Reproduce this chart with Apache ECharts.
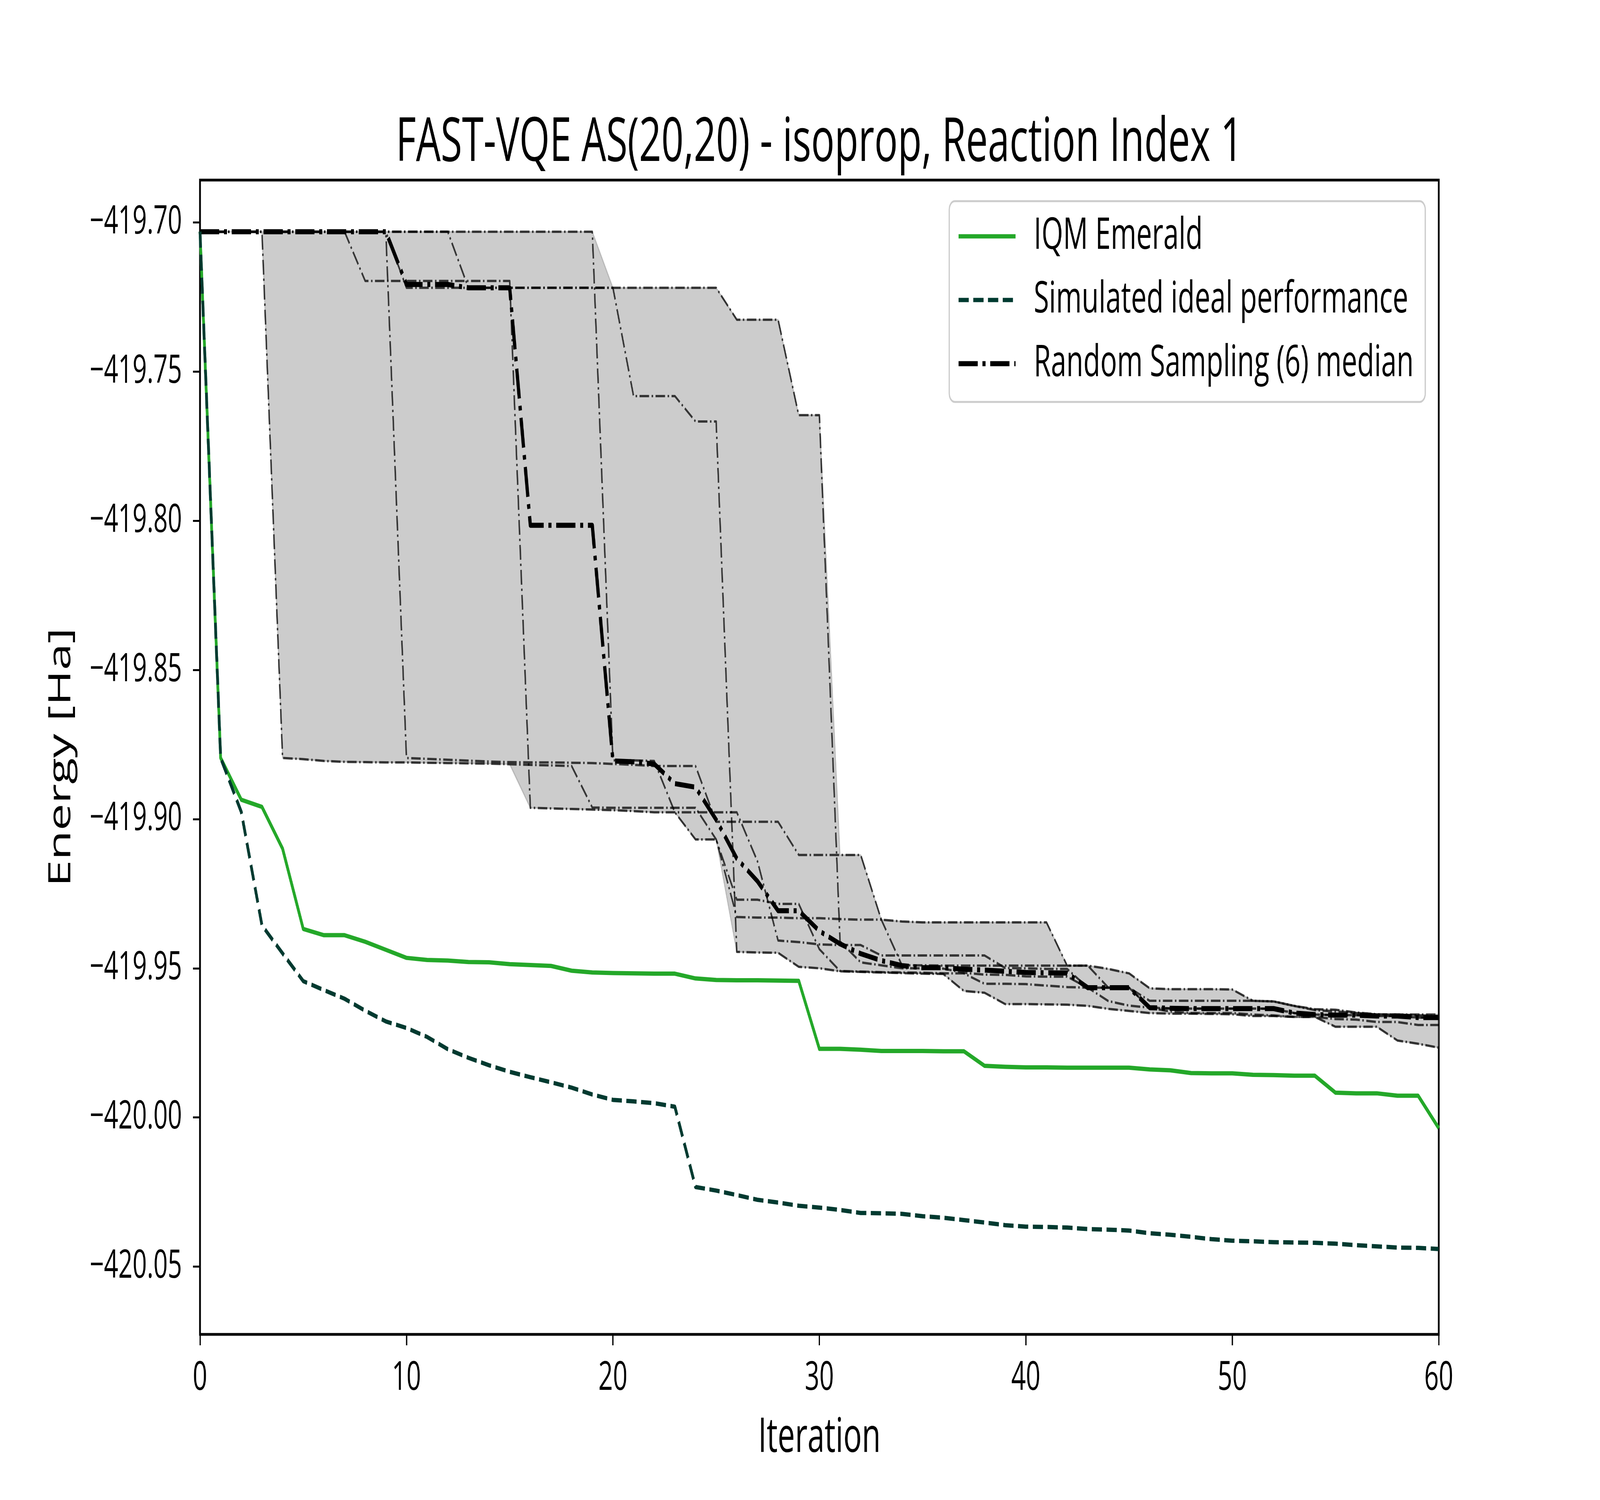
<!DOCTYPE html>
<html><head><meta charset="utf-8">
<script src="https://cdn.jsdelivr.net/npm/echarts@6/dist/echarts.min.js"></script>
<style>html,body{margin:0;padding:0;background:#fff;overflow:hidden}
#wrap{position:absolute;left:0;top:0;width:6400px;height:3840px;transform-origin:0 0}
#c{width:6400px;height:3840px}</style>
</head><body><div id="wrap"><div id="c"></div></div>
<script>
// ---------------- data ----------------
const iterations = [0,1,2,3,4,5,6,7,8,9,10,11,12,13,14,15,16,17,18,19,20,21,22,23,24,25,26,27,28,29,30,31,32,33,34,35,36,37,38,39,40,41,42,43,44,45,46,47,48,49,50,51,52,53,54,55,56,57,58,59,60];

const iqmEmerald = [-419.7031,-419.8795,-419.8935,-419.8959,-419.9099,-419.9368,-419.9389,-419.9389,-419.9411,-419.9438,
 -419.9465,-419.9472,-419.9474,-419.9479,-419.9480,-419.9486,-419.9489,-419.9492,-419.9508,-419.9514,
 -419.9516,-419.9517,-419.9518,-419.9518,-419.9534,-419.9539,-419.9540,-419.9540,-419.9541,-419.9542,
 -419.9770,-419.9770,-419.9773,-419.9777,-419.9777,-419.9777,-419.9778,-419.9778,-419.9827,-419.9830,
 -419.9832,-419.9832,-419.9833,-419.9833,-419.9833,-419.9833,-419.9839,-419.9842,-419.9851,-419.9852,
 -419.9852,-419.9857,-419.9858,-419.9860,-419.9860,-419.9917,-419.9919,-419.9919,-419.9927,-419.9927,-420.0036];

const simulatedIdeal = [-419.7031,-419.8795,-419.8976,-419.9356,-419.9450,-419.9543,-419.9573,-419.9602,-419.9642,-419.9678,
 -419.9700,-419.9730,-419.9771,-419.9800,-419.9825,-419.9847,-419.9865,-419.9882,-419.9900,-419.9923,
 -419.9941,-419.9946,-419.9952,-419.9964,-420.0233,-420.0245,-420.0260,-420.0276,-420.0285,-420.0296,
 -420.0302,-420.0310,-420.0320,-420.0321,-420.0323,-420.0331,-420.0336,-420.0344,-420.0352,-420.0361,
 -420.0366,-420.0367,-420.0369,-420.0374,-420.0376,-420.0379,-420.0388,-420.0393,-420.0400,-420.0408,
 -420.0413,-420.0415,-420.0418,-420.0419,-420.0420,-420.0423,-420.0428,-420.0432,-420.0436,-420.0437,-420.0441];

const randomMedian = [-419.7031,-419.7031,-419.7031,-419.7031,-419.7031,-419.7031,-419.7031,-419.7031,-419.7031,-419.7031,
 -419.7208,-419.7208,-419.7208,-419.7219,-419.7219,-419.7219,-419.8015,-419.8015,-419.8015,-419.8015,
 -419.8805,-419.8808,-419.8815,-419.8881,-419.8893,-419.9002,-419.9132,-419.9208,-419.9307,-419.9307,
 -419.9375,-419.9418,-419.9451,-419.9474,-419.9491,-419.9498,-419.9498,-419.9503,-419.9506,-419.9510,
 -419.9514,-419.9515,-419.9516,-419.9565,-419.9565,-419.9565,-419.9632,-419.9634,-419.9635,-419.9635,
 -419.9635,-419.9635,-419.9635,-419.9650,-419.9655,-419.9657,-419.9657,-419.9660,-419.9660,-419.9665,-419.9665];

const randomRun1 = [-419.7031,-419.7031,-419.7031,-419.7031,-419.8795,-419.8799,-419.8805,-419.8808,-419.8809,-419.8810,
 -419.8810,-419.8811,-419.8812,-419.8813,-419.8814,-419.8816,-419.8818,-419.8820,-419.8822,-419.8961,
 -419.8962,-419.8962,-419.8962,-419.8962,-419.8962,-419.9068,-419.9270,-419.9270,-419.9284,-419.9284,
 -419.9436,-419.9509,-419.9511,-419.9513,-419.9514,-419.9515,-419.9517,-419.9517,-419.9552,-419.9552,
 -419.9553,-419.9558,-419.9563,-419.9565,-419.9565,-419.9565,-419.9632,-419.9645,-419.9650,-419.9650,
 -419.9650,-419.9655,-419.9658,-419.9663,-419.9663,-419.9670,-419.9672,-419.9680,-419.9680,-419.9690,-419.9690];

const randomRun2 = [-419.7031,-419.7031,-419.7031,-419.7031,-419.7031,-419.7031,-419.7031,-419.7031,-419.7196,-419.7196,
 -419.7196,-419.7196,-419.7196,-419.7196,-419.7196,-419.7196,-419.8962,-419.8964,-419.8966,-419.8968,
 -419.8970,-419.8973,-419.8977,-419.8977,-419.8977,-419.8977,-419.8977,-419.9141,-419.9407,-419.9412,
 -419.9420,-419.9422,-419.9422,-419.9457,-419.9457,-419.9457,-419.9457,-419.9457,-419.9457,-419.9499,
 -419.9500,-419.9502,-419.9502,-419.9565,-419.9565,-419.9565,-419.9632,-419.9634,-419.9635,-419.9635,
 -419.9635,-419.9635,-419.9636,-419.9650,-419.9655,-419.9657,-419.9657,-419.9660,-419.9660,-419.9665,-419.9665];

const randomRun3 = [-419.7031,-419.7031,-419.7031,-419.7031,-419.7031,-419.7031,-419.7031,-419.7031,-419.7031,-419.7031,
 -419.8795,-419.8798,-419.8801,-419.8804,-419.8807,-419.8809,-419.8810,-419.8810,-419.8811,-419.8812,
 -419.8815,-419.8818,-419.8822,-419.8822,-419.8822,-419.9009,-419.9009,-419.9009,-419.9009,-419.9120,
 -419.9120,-419.9120,-419.9120,-419.9337,-419.9343,-419.9346,-419.9346,-419.9346,-419.9346,-419.9346,
 -419.9346,-419.9346,-419.9491,-419.9491,-419.9502,-419.9517,-419.9567,-419.9570,-419.9570,-419.9570,
 -419.9571,-419.9609,-419.9611,-419.9626,-419.9637,-419.9639,-419.9648,-419.9654,-419.9655,-419.9655,-419.9655];

const randomRun4 = [-419.7031,-419.7031,-419.7031,-419.7031,-419.7031,-419.7031,-419.7031,-419.7031,-419.7031,-419.7031,
 -419.7219,-419.7219,-419.7219,-419.7219,-419.7219,-419.7219,-419.7219,-419.7219,-419.7219,-419.7219,
 -419.7219,-419.7219,-419.7219,-419.7219,-419.7219,-419.7219,-419.7326,-419.7326,-419.7326,-419.7646,
 -419.7646,-419.9410,-419.9480,-419.9490,-419.9500,-419.9500,-419.9501,-419.9515,-419.9521,-419.9522,
 -419.9527,-419.9528,-419.9528,-419.9565,-419.9610,-419.9625,-419.9632,-419.9635,-419.9635,-419.9635,
 -419.9635,-419.9635,-419.9635,-419.9650,-419.9655,-419.9657,-419.9657,-419.9660,-419.9660,-419.9665,-419.9665];

const randomRun5 = [-419.7031,-419.7031,-419.7031,-419.7031,-419.7031,-419.7031,-419.7031,-419.7031,-419.7031,-419.7031,
 -419.7031,-419.7031,-419.7031,-419.7219,-419.7219,-419.7219,-419.7219,-419.7219,-419.7219,-419.7219,
 -419.7219,-419.7582,-419.7582,-419.7582,-419.7667,-419.7667,-419.9445,-419.9447,-419.9448,-419.9495,
 -419.9500,-419.9510,-419.9512,-419.9514,-419.9516,-419.9518,-419.9519,-419.9576,-419.9582,-419.9620,
 -419.9620,-419.9621,-419.9622,-419.9626,-419.9636,-419.9643,-419.9650,-419.9652,-419.9652,-419.9653,
 -419.9654,-419.9660,-419.9660,-419.9663,-419.9663,-419.9696,-419.9696,-419.9696,-419.9742,-419.9753,-419.9766];

const randomRun6 = [-419.7031,-419.7031,-419.7031,-419.7031,-419.7031,-419.7031,-419.7031,-419.7031,-419.7031,-419.7031,
 -419.7031,-419.7031,-419.7031,-419.7031,-419.7031,-419.7031,-419.7031,-419.7031,-419.7031,-419.7031,
 -419.8803,-419.8803,-419.8805,-419.8977,-419.9068,-419.9068,-419.9328,-419.9330,-419.9330,-419.9332,
 -419.9332,-419.9335,-419.9337,-419.9337,-419.9490,-419.9490,-419.9491,-419.9491,-419.9491,-419.9491,
 -419.9491,-419.9491,-419.9491,-419.9491,-419.9565,-419.9565,-419.9609,-419.9609,-419.9609,-419.9609,
 -419.9609,-419.9609,-419.9611,-419.9626,-419.9640,-419.9645,-419.9650,-419.9655,-419.9655,-419.9658,-419.9660];

const xTicks = [0,10,20,30,40,50,60];
const yTicks = [-420.05,-420.00,-419.95,-419.90,-419.85,-419.80,-419.75,-419.70];
const titleText = 'FAST-VQE AS(20,20) - isoprop, Reaction Index 1';
const seriesNames = ['IQM Emerald','Simulated ideal performance','Random Sampling (6) median'];

// ---------------- layout: chart is laid out at 6400x3840 and fitted to the window ----------------
const W = 6400, H = 3840;
document.getElementById('wrap').style.transform =
  'scale(' + (window.innerWidth / W) + ',' + (window.innerHeight / H) + ')';
const FONT = 'Open Sans';
const grid = {left: 800, right: 645, top: 461, bottom: 424};
const axesCenterX = grid.left + (W - grid.left - grid.right) / 2;

const runs = [randomRun1, randomRun2, randomRun3, randomRun4, randomRun5, randomRun6];
const pairs = arr => iterations.map((x, i) => [x, arr[i]]);
const bandLow = iterations.map((_, i) => Math.min(...runs.map(r => r[i])));
const bandHigh = iterations.map((_, i) => Math.max(...runs.map(r => r[i])));

const styles = {
  green: {color: '#24a829', width: 11, dash: null},
  ideal: {color: '#003a30', width: 11, dash: [41, 18]},
  median: {color: '#000000', width: 13, dash: [77, 19, 12, 19]},
  run: {color: 'rgba(0,0,0,0.74)', width: 6, dash: [38, 10, 6, 10]}
};
const lineStyle = st => ({color: st.color, width: st.width, type: st.dash ? st.dash : 'solid', join: 'round', cap: 'butt'});

const chart = echarts.init(document.getElementById('c'), null, {width: W, height: H, devicePixelRatio: 1});

const series = [];
series.push({
  type: 'custom', name: 'band', coordinateSystem: 'cartesian2d', silent: true, z: 1, clip: true,
  data: [[iterations[0], bandHigh[0]]], encode: {x: 0, y: 1},
  renderItem: (params, api) => {
    const pts = [];
    for (let i = 0; i < iterations.length; i++) pts.push(api.coord([iterations[i], bandHigh[i]]));
    for (let i = iterations.length - 1; i >= 0; i--) pts.push(api.coord([iterations[i], bandLow[i]]));
    return {type: 'polygon', shape: {points: pts},
      style: {fill: 'rgba(128,128,128,0.4)', stroke: 'rgba(128,128,128,0.4)', lineWidth: 4, lineJoin: 'round'}};
  }
});
runs.forEach((r, k) => series.push({
  type: 'line', name: 'run' + (k + 1), data: pairs(r), symbol: 'none', silent: true, z: 2,
  lineStyle: lineStyle(styles.run)
}));
series.push({type: 'line', name: seriesNames[2], data: pairs(randomMedian), symbol: 'none', z: 3,
  lineStyle: lineStyle(styles.median), itemStyle: {color: styles.median.color}});
series.push({type: 'line', name: seriesNames[0], data: pairs(iqmEmerald), symbol: 'none', z: 4,
  lineStyle: lineStyle(styles.green), itemStyle: {color: styles.green.color}});
series.push({type: 'line', name: seriesNames[1], data: pairs(simulatedIdeal), symbol: 'none', z: 5,
  lineStyle: lineStyle(styles.ideal), itemStyle: {color: styles.ideal.color}});

// legend drawn as graphic (box + handles + labels)
const legendBox = {x: 3797, y: 515, w: 1904, h: 514};
const legendRows = [605, 768, 931];
const legendStyles = [styles.green, styles.ideal, styles.median];
const graphic = [{
  type: 'rect', z: 100, shape: {x: legendBox.x, y: legendBox.y, width: legendBox.w, height: legendBox.h, r: 22},
  style: {fill: 'rgba(255,255,255,0.8)', stroke: '#cccccc', lineWidth: 5}
}];
seriesNames.forEach((nm, k) => {
  const st = legendStyles[k];
  graphic.push({type: 'line', z: 101, shape: {x1: 3834, y1: legendRows[k], x2: 4062, y2: legendRows[k]},
    style: {stroke: st.color, lineWidth: st.width, lineDash: st.dash, lineCap: 'butt'}});
  graphic.push({type: 'text', z: 101, x: 4135, y: legendRows[k],
    style: {text: nm, fontFamily: FONT, fontSize: 111, fill: '#000', align: 'left', verticalAlign: 'middle'}});
});

chart.setOption({
  animation: false,
  backgroundColor: '#ffffff',
  textStyle: {fontFamily: FONT},
  title: {
    text: titleText, left: axesCenterX, textAlign: 'center', top: 290, padding: 0,
    textStyle: {fontFamily: FONT, fontSize: 156, fontWeight: 'normal', color: '#000'}
  },
  grid: Object.assign({show: true, borderColor: '#000', borderWidth: 7, backgroundColor: 'transparent'}, grid),
  xAxis: {
    type: 'value', min: 0, max: 60, interval: 10,
    axisLine: {show: false},
    axisTick: {show: true, length: 28, lineStyle: {color: '#000', width: 5}},
    axisLabel: {fontFamily: FONT, fontSize: 102, color: '#000', margin: 62},
    splitLine: {show: false},
    name: 'Iteration', nameLocation: 'middle', nameGap: 204,
    nameTextStyle: {fontFamily: FONT, fontSize: 123, color: '#000'}
  },
  yAxis: {
    type: 'value', min: -420.0727, max: -419.6858,
    axisLine: {show: false},
    axisTick: {show: true, length: 28, customValues: yTicks, lineStyle: {color: '#000', width: 5}},
    axisLabel: {fontFamily: FONT, fontSize: 100, color: '#000', margin: 72, customValues: yTicks,
      formatter: v => '\u2212' + Math.abs(v).toFixed(2)},
    splitLine: {show: false},
    name: 'Energy [Ha]', nameLocation: 'middle', nameRotate: 90, nameGap: 493,
    nameTextStyle: {fontFamily: FONT, fontSize: 123, color: '#000'}
  },
  graphic: graphic,
  series: series
});
</script></body></html>
